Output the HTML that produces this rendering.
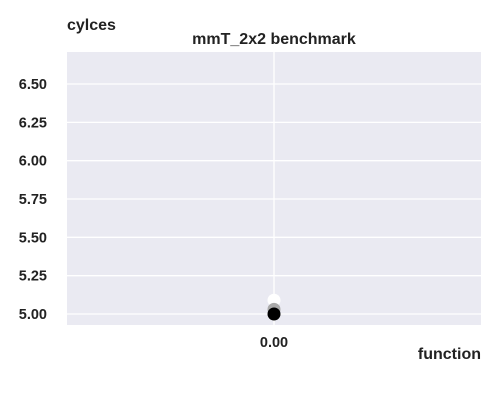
<!DOCTYPE html>
<html><head><meta charset="utf-8"><style>
body{margin:0;background:#fff;font-family:"Liberation Sans",Arial,sans-serif}
svg text{font-family:"Liberation Sans",Arial,sans-serif;font-weight:bold;fill:#222}
</style></head><body>
<svg id="chart" width="500" height="400" xmlns="http://www.w3.org/2000/svg">
<rect x="67" y="52" width="414" height="273" fill="#eaeaf2"/>
<g id="grid"></g>
<g id="pts"></g>
<text x="67" y="30" font-size="16">cylces</text>
<text x="274" y="44" font-size="16" text-anchor="middle">mmT_2x2 benchmark</text>
<text x="481" y="359" font-size="16" text-anchor="end">function</text>
</svg>
<script>
const yTicks=[5.00,5.25,5.50,5.75,6.00,6.25,6.50];
const xTicks=[0.00];
const pointValues=[5.09,5.03,5.00];
const pointColors=["#ffffff","#aaaaaa","#000000"];
const ns="http://www.w3.org/2000/svg";
const yS=v=>314-(v-5)*153.33;
const xS=v=>274+v*3764;
const g=document.getElementById('grid'),p=document.getElementById('pts');
function mk(t,a,par){const e=document.createElementNS(ns,t);for(const k in a)e.setAttribute(k,a[k]);par.appendChild(e);return e;}
yTicks.forEach(v=>{
 const l=mk('line',{x1:67,x2:481,y1:yS(v),y2:yS(v),stroke:'#fff','stroke-width':1.3},g);
 
 
 const t=mk('text',{x:47,y:yS(v)+5,'font-size':14.5,'text-anchor':'end'},g);
 t.textContent=v.toFixed(2);
 
 
});
xTicks.forEach(v=>{
 const l=mk('line',{x1:xS(v),x2:xS(v),y1:52,y2:325,stroke:'#fff','stroke-width':1.3},g);
 
 
 const t=mk('text',{x:xS(v),y:347,'font-size':14.5,'text-anchor':'middle'},g);
 t.textContent=v.toFixed(2);
 
 
});
pointValues.forEach((v,i)=>{
 const c=mk('circle',{cx:xS(0),cy:yS(v),r:6.5,fill:pointColors[i]},p);
 
 
});
</script>
</body></html>
